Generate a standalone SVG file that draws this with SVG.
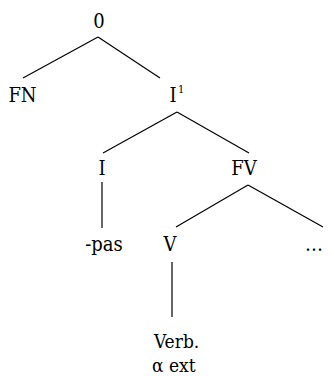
<svg xmlns="http://www.w3.org/2000/svg" width="334" height="376" viewBox="0 0 334 376">
<style>
text{font-family:"DejaVu Serif Condensed","DejaVu Serif","Liberation Serif",serif;font-stretch:condensed;font-size:20px;fill:#000}
.m{text-anchor:middle}
#edges line{stroke:#000;stroke-width:1.2}
</style>
<rect width="334" height="376" fill="#fff"/>
<g id="edges">
<line x1="98" y1="37" x2="23" y2="78"/>
<line x1="98" y1="37" x2="160" y2="78"/>
<line x1="177" y1="112" x2="103" y2="153"/>
<line x1="177" y1="112" x2="249" y2="153"/>
<line x1="102" y1="182" x2="102" y2="228"/>
<line x1="248" y1="185" x2="176" y2="227"/>
<line x1="248" y1="185" x2="323" y2="227"/>
<line x1="172" y1="262" x2="172" y2="317"/>
</g>
<g id="n0"><text class="m" x="99" y="28">0</text></g>
<g id="nFN"><text class="m" x="22.5" y="102">FN</text></g>
<g id="nI1"><text class="m" x="173" y="102">I</text><text x="178" y="93" style="font-size:11px">1</text></g>
<g id="nI"><text class="m" x="102" y="175">I</text></g>
<g id="nFV"><text class="m" x="244" y="175">FV</text></g>
<g id="npas"><text class="m" x="104" y="251">-pas</text></g>
<g id="nV"><text class="m" x="170" y="251">V</text></g>
<g id="ndots"><text x="305" y="251">…</text></g>
<g id="nVerb"><text x="154" y="348" style="font-size:19px">Verb.</text><text x="152" y="372" style="font-size:19px">α ext</text></g>
</svg>
